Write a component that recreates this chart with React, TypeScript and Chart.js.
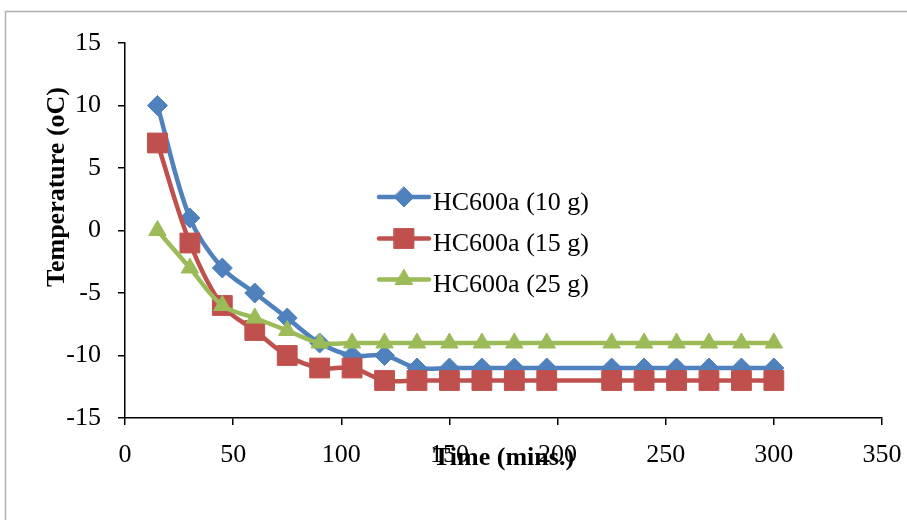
import React, { useEffect, useRef } from 'react';
import { Chart, registerables } from 'chart.js';

Chart.register(...registerables);

// ---- Data ----
const timeMins = [15, 30, 45, 60, 75, 90, 105, 120, 135, 150, 165, 180, 195, 225, 240, 255, 270, 285, 300];
const temp10g = [10, 1, -3, -5, -7, -9, -10, -10, -11, -11, -11, -11, -11, -11, -11, -11, -11, -11, -11];
const temp15g = [7, -1, -6, -8, -10, -11, -11, -12, -12, -12, -12, -12, -12, -12, -12, -12, -12, -12, -12];
const temp25g = [0, -3, -6, -7, -8, -9, -9, -9, -9, -9, -9, -9, -9, -9, -9, -9, -9, -9, -9];
const seriesLabels = ['HC600a (10 g)', 'HC600a (15 g)', 'HC600a (25 g)'];
const xTitle = 'Time (mins.)';
const yTitle = 'Temperature (oC)';

const BLUE = '#4F81BD';
const RED = '#C0504D';
const GREEN = '#9BBB59';
const FONT = '"Liberation Serif", "Times New Roman", serif';

type Marker = 'rectRot' | 'rect' | 'triangle';

function drawMarker(ctx: CanvasRenderingContext2D, style: Marker, x: number, y: number, r: number, color: string) {
  ctx.save();
  ctx.fillStyle = color;
  ctx.strokeStyle = color;
  ctx.lineWidth = 1;
  ctx.beginPath();
  if (style === 'rectRot') {
    ctx.moveTo(x, y - r);
    ctx.lineTo(x + r, y);
    ctx.lineTo(x, y + r);
    ctx.lineTo(x - r, y);
    ctx.closePath();
  } else if (style === 'rect') {
    const h = r * Math.SQRT1_2;
    ctx.rect(x - h, y - h, 2 * h, 2 * h);
  } else {
    const edge = r * Math.sqrt(3);
    const h = edge * Math.sqrt(3) / 2;
    ctx.moveTo(x - edge / 2, y + h / 3);
    ctx.lineTo(x + edge / 2, y + h / 3);
    ctx.lineTo(x, y - (2 * h) / 3);
    ctx.closePath();
  }
  ctx.fill();
  ctx.stroke();
  ctx.restore();
}

const markerStyles: Marker[] = ['rectRot', 'rect', 'triangle'];
const markerRadii = [10, 14, 10];
const colors = [BLUE, RED, GREEN];

const decorPlugin = {
  id: 'decor',
  beforeDraw(chart: any) {
    const ctx = chart.ctx as CanvasRenderingContext2D;
    ctx.save();
    ctx.fillStyle = '#ffffff';
    ctx.fillRect(0, 0, chart.width, chart.height);
    ctx.strokeStyle = '#b0b0b0';
    ctx.lineWidth = 1.5;
    ctx.beginPath();
    ctx.moveTo(5.5, chart.height + 5);
    ctx.lineTo(5.5, 11.5);
    ctx.lineTo(chart.width + 5, 11.5);
    ctx.stroke();
    ctx.restore();
  },
  afterDraw(chart: any) {
    const ctx = chart.ctx as CanvasRenderingContext2D;
    const area = chart.chartArea;
    ctx.save();
    // axis titles
    ctx.fillStyle = '#000';
    ctx.font = `bold 26px ${FONT}`;
    ctx.textAlign = 'center';
    ctx.textBaseline = 'alphabetic';
    ctx.fillText(xTitle, (area.left + area.right) / 2, 465);
    ctx.save();
    ctx.translate(64, 187);
    ctx.rotate(-Math.PI / 2);
    ctx.fillText(yTitle, 0, 0);
    ctx.restore();

    // legend
    const lineY = [197, 238.5, 279.5];
    const textY = [209.5, 250.8, 292];
    ctx.font = `26px ${FONT}`;
    ctx.textAlign = 'left';
    for (let i = 0; i < 3; i++) {
      ctx.strokeStyle = colors[i];
      ctx.lineWidth = 4.5;
      ctx.lineCap = 'round';
      ctx.beginPath();
      ctx.moveTo(379, lineY[i]);
      ctx.lineTo(429, lineY[i]);
      ctx.stroke();
      drawMarker(ctx, markerStyles[i], 404, lineY[i], markerRadii[i], colors[i]);
      ctx.fillStyle = '#000';
      ctx.fillText(seriesLabels[i], 433, textY[i]);
    }
    ctx.restore();
  },
};

export default function App() {
  const canvasRef = useRef<HTMLCanvasElement | null>(null);

  useEffect(() => {
    document.body.style.margin = '0';
    const canvas = canvasRef.current;
    if (!canvas) return;
    const seriesValues = [temp10g, temp15g, temp25g];
    const chart = new Chart(canvas, {
      type: 'line',
      data: {
        datasets: seriesValues.map((vals, i) => ({
          label: seriesLabels[i],
          data: timeMins.map((t, j) => ({ x: t, y: vals[j] })),
          borderColor: colors[i],
          backgroundColor: colors[i],
          borderWidth: 4.5,
          tension: 0.35,
          pointStyle: markerStyles[i],
          pointRadius: markerRadii[i],
          pointHoverRadius: markerRadii[i],
          pointBackgroundColor: colors[i],
          pointBorderColor: colors[i],
          pointBorderWidth: 1,
          fill: false,
          order: 2 - i,
          clip: false as any,
        })),
      },
      options: {
        animation: false,
        responsive: false,
        maintainAspectRatio: false,
        devicePixelRatio: 1,
        layout: { padding: { top: 43, right: 25, left: 0, bottom: 0 } },
        plugins: {
          legend: { display: false },
          tooltip: { enabled: false },
          title: { display: false },
        },
        scales: {
          x: {
            type: 'linear',
            min: 0,
            max: 350,
            ticks: {
              stepSize: 50,
              color: '#000',
              font: { family: FONT, size: 26 },
              padding: 15,
              maxRotation: 0,
              autoSkip: false,
            },
            grid: {
              drawOnChartArea: false,
              drawTicks: true,
              tickLength: 7,
              color: '#000',
              lineWidth: 1.5,
            },
            border: { color: '#000', width: 1.5 },
            afterFit: (s: any) => {
              s.height = 102;
              s.paddingLeft = 0;
              s.paddingRight = 20;
            },
          },
          y: {
            type: 'linear',
            min: -15,
            max: 15,
            ticks: {
              stepSize: 5,
              color: '#000',
              font: { family: FONT, size: 26 },
              padding: 17,
            },
            grid: {
              drawOnChartArea: false,
              drawTicks: true,
              tickLength: 7,
              color: '#000',
              lineWidth: 1.5,
            },
            border: { color: '#000', width: 1.5 },
            afterFit: (s: any) => {
              s.width = 125;
              s.paddingTop = 0;
              s.paddingBottom = 0;
            },
          },
        },
      },
      plugins: [decorPlugin],
    } as any);
    return () => chart.destroy();
  }, []);

  return (
    <div style={{ width: 907, height: 520, position: 'relative', background: '#fff' }}>
      <canvas ref={canvasRef} width={907} height={520} style={{ display: 'block', width: 907, height: 520 }} />
    </div>
  );
}
